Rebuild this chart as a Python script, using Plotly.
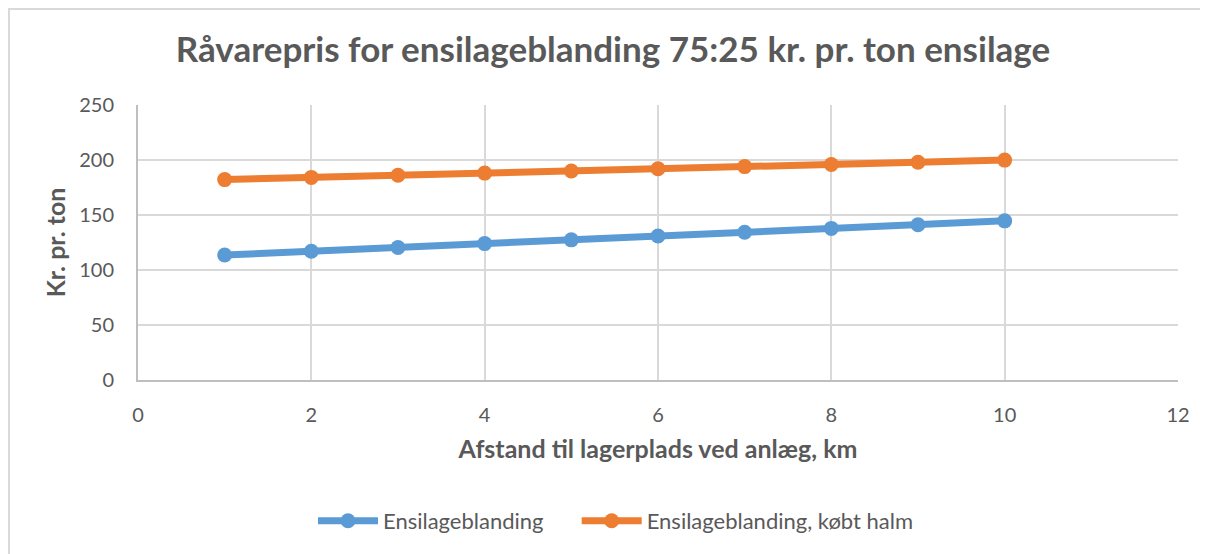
import plotly.graph_objects as go

x_km = [1, 2, 3, 4, 5, 6, 7, 8, 9, 10]
ensilage = [113.6, 117.1, 120.5, 124.0, 127.4, 130.9, 134.3, 137.8, 141.2, 144.7]
ensilage_halm = [182.2, 184.2, 186.1, 188.1, 190.0, 192.0, 194.0, 195.9, 197.9, 199.9]
series_names = ["Ensilageblanding", "Ensilageblanding, købt halm"]
colors = ["#5B9BD5", "#ED7D31"]

FONT = "Lato"
GREY = "#595959"

fig = go.Figure()
for i, (name, ys, c) in enumerate(zip(series_names, [ensilage, ensilage_halm], colors)):
    label = name + ("\u00a0" * 5 if i == 0 else "")
    fig.add_trace(go.Scatter(
        x=x_km, y=ys, name=label, mode="lines+markers",
        line=dict(color=c, width=7),
        marker=dict(color=c, size=15),
    ))

# page has an 8px body margin; compensate so the figure lands on the window grid
OFF = 8
W, H = 1208 - OFF, 554 - OFF
L, R, T, B = 138 - OFF, 30, 105 - OFF, 174
pw, ph = W - L - R, H - T - B

def px_x(p):
    return (p - OFF - L) / pw

def px_y(p):
    return (H - B - (p - OFF)) / ph

fig.update_layout(
    width=W, height=H,
    margin=dict(l=L, r=R, t=T, b=B),
    paper_bgcolor="white", plot_bgcolor="white",
    font=dict(family=FONT, color=GREY, size=20),
    title=dict(text="<b>Råvarepris for ensilageblanding 75:25 kr. pr. ton ensilage</b>",
               xref="container", x=(613 - OFF) / W, xanchor="center",
               y=1 - (50 - OFF) / H, yanchor="middle",
               font=dict(size=35, color=GREY, family=FONT)),
    legend=dict(orientation="h", x=px_x(616), xanchor="center",
                y=px_y(521), yanchor="middle",
                font=dict(size=22, color=GREY, family=FONT),
                itemwidth=60, tracegroupgap=0),
    xaxis=dict(range=[0, 12], dtick=2, showgrid=True, gridcolor="#D9D9D9",
               gridwidth=2, showline=True, linecolor="#BFBFBF", linewidth=2,
               zeroline=False, ticklabelstandoff=16,
               tickfont=dict(size=20, color=GREY, family=FONT),
               title=dict(text="<b>Afstand til lagerplads ved anlæg, km</b>",
                          font=dict(size=25, color=GREY, family=FONT), standoff=15)),
    yaxis=dict(range=[0, 250], dtick=50, showgrid=True, gridcolor="#D9D9D9",
               gridwidth=2, showline=True, linecolor="#BFBFBF", linewidth=2,
               zeroline=False, ticklabelstandoff=18,
               tickfont=dict(size=20, color=GREY, family=FONT),
               title=dict(text="<b>Kr. pr. ton</b>",
                          font=dict(size=25, color=GREY, family=FONT), standoff=6)),
    shapes=[dict(type="rect", xref="paper", yref="paper",
                 x0=px_x(9), x1=px_x(1240), y0=px_y(9), y1=px_y(600),
                 line=dict(color="#D9D9D9", width=2), fillcolor="rgba(0,0,0,0)",
                 layer="below")],
)

fig.write_html("out.html")
